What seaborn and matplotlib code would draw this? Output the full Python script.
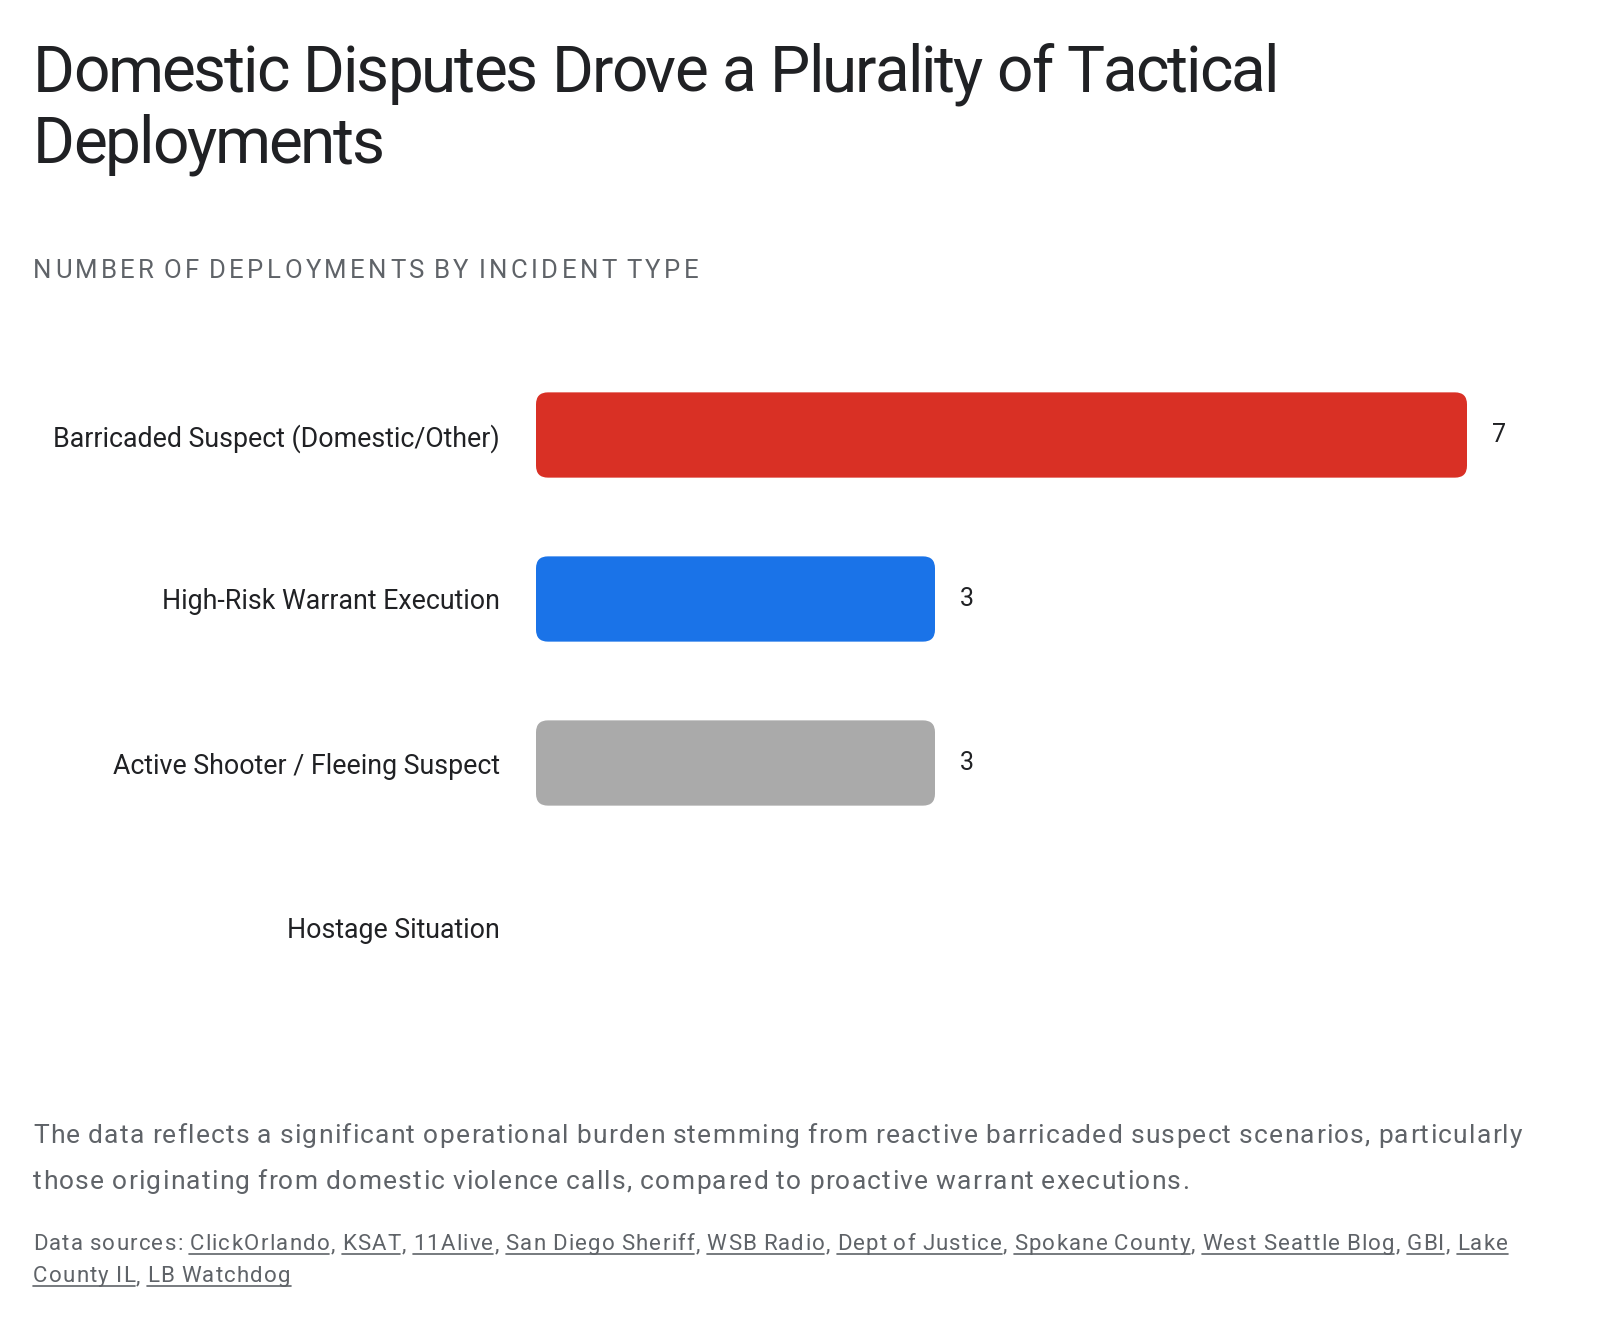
import matplotlib
matplotlib.use('Agg')
import matplotlib.pyplot as plt
import seaborn as sns
import pandas as pd
from matplotlib import font_manager
from matplotlib.ft2font import FT2Font
from matplotlib.patches import FancyBboxPatch
from matplotlib.transforms import IdentityTransform
from matplotlib.lines import Line2D

# Data
categories = ['Barricaded Suspect (Domestic/Other)', 'High-Risk Warrant Execution',
              'Active Shooter / Fleeing Suspect', 'Hostage Situation']
deployments = [7, 3, 3, 0]
bar_colors = ['#d93025', '#1a73e8', '#aaaaaa', '#aaaaaa']

title_lines = ['Domestic Disputes Drove a Plurality of Tactical', 'Deployments']
subtitle = 'NUMBER OF DEPLOYMENTS BY INCIDENT TYPE'
body = ('The data reflects a significant operational burden stemming from reactive barricaded '
        'suspect scenarios, particularly those originating from domestic violence calls, '
        'compared to proactive warrant executions.')
sources = ['ClickOrlando', 'KSAT', '11Alive', 'San Diego Sheriff', 'WSB Radio', 'Dept of Justice',
           'Spokane County', 'West Seattle Blog', 'GBI', 'Lake County IL', 'LB Watchdog']

df = pd.DataFrame({'category': categories, 'value': deployments})

sns.set_theme(style='white')
plt.rcParams['font.family'] = ['Roboto', 'DejaVu Sans']

W, H = 1600, 1322
fig = plt.figure(figsize=(W / 100, H / 100), dpi=100)
fig.patch.set_facecolor('white')

ax_left, ax_right = 536, 1520
ax_top, ax_bottom = 353, 1009
ax = fig.add_axes([ax_left / W, 1 - ax_bottom / H, (ax_right - ax_left) / W, (ax_bottom - ax_top) / H])

sns.barplot(data=df, x='value', y='category', hue='category', palette=bar_colors,
            width=0.52, legend=False, ax=ax, saturation=1)
xmax = (ax_right - ax_left) / 133.0
ax.set_xlim(0, xmax)
ax.set_ylim(3.5, -0.5)

# swap the square bars for rounded ones
px_x = (ax_right - ax_left) / xmax
px_y = (ax_bottom - ax_top) / 4.0
r = 12 / px_x
for p in list(ax.patches):
    x, y, w, h = p.get_x(), p.get_y(), p.get_width(), p.get_height()
    fc = p.get_facecolor()
    p.remove()
    if w <= 0:
        continue
    fb = FancyBboxPatch((x, y), w, h, boxstyle=f'round,pad=0,rounding_size={r}',
                        mutation_aspect=px_x / px_y, facecolor=fc, edgecolor='none')
    ax.add_patch(fb)

for i, v in enumerate(deployments):
    if v > 0:
        ax.text(v + 25 / px_x, i, str(v), va='center', ha='left', fontsize=18, color='#202124')

ax.set_xlabel('')
ax.set_ylabel('')
ax.set_xticks([])
ax.tick_params(axis='y', length=0, pad=26, labelsize=19.3, labelcolor='#202124')
sns.despine(ax=ax, left=True, bottom=True)

# text with letter spacing, drawn one glyph at a time
ident = IdentityTransform()
font_path = font_manager.findfont(font_manager.FontProperties(family='Roboto'))
ft = FT2Font(font_path)


def advances(s, size):
    ft.set_size(size, 100)
    return [ft.load_char(ord(c)).linearHoriAdvance / 65536 for c in s]


def word_width(s, size, track):
    return sum(advances(s, size)) + track * (len(s) - 1)


def draw_chars(s, x, y, size, color, track):
    for c, a in zip(s, advances(s, size)):
        if c != ' ':
            fig.text(x, y, c, transform=ident, fontsize=size, color=color,
                     va='baseline', ha='left')
        x += a + track
    return x


def draw_wrapped(tokens, x0, y0, maxx, size, color, lead, track, underline=False):
    space = advances(' ', size)[0] + track
    x, y = x0, y0
    placed = []
    for tok in tokens:
        wt = sum(word_width(s, size, track) for s, _ in tok) + track * (len(tok) - 1)
        if x > x0 and x + wt > maxx:
            x = x0
            y -= lead
        for s, link in tok:
            xe = draw_chars(s, x, y, size, color, track)
            placed.append((x, xe - track, y, link))
            x = xe
        x = x - track + space
    if underline:
        runs = []
        for xs, xe, yy, link in placed:
            if link is None:
                continue
            if runs and runs[-1][3] == link and runs[-1][2] == yy:
                runs[-1][1] = xe
            else:
                runs.append([xs, xe, yy, link])
        for xs, xe, yy, _ in runs:
            fig.add_artist(Line2D([xs, xe], [yy - 4, yy - 4], transform=ident,
                                  color=color, linewidth=1.2))


def plain_tokens(s):
    return [[(wd, None)] for wd in s.split()]


# title and subtitle
draw_wrapped(plain_tokens(title_lines[0]), 33, H - 92, W, 46, '#202124', 71, -2.1)
draw_wrapped(plain_tokens(title_lines[1]), 33, H - 163, W, 46, '#202124', 71, -2.1)
draw_wrapped(plain_tokens(subtitle), 33, H - 278, W, 18.5, '#5f6368', 30, 3.4)

# takeaway paragraph
draw_wrapped(plain_tokens(body), 33, H - 1143, 1535, 19, '#5f6368', 46, 1.3)

# sources with underlined links
src_tokens = [[('Data', None)], [('sources:', None)]]
for i, s in enumerate(sources):
    words = s.split()
    for j, wd in enumerate(words):
        tok = [(wd, i)]
        if j == len(words) - 1 and i < len(sources) - 1:
            tok.append((',', None))
        src_tokens.append(tok)
draw_wrapped(src_tokens, 33, H - 1250, 1535, 16, '#5f6368', 32, 1.25, underline=True)

fig.savefig('out.png', dpi=100, facecolor='white')
